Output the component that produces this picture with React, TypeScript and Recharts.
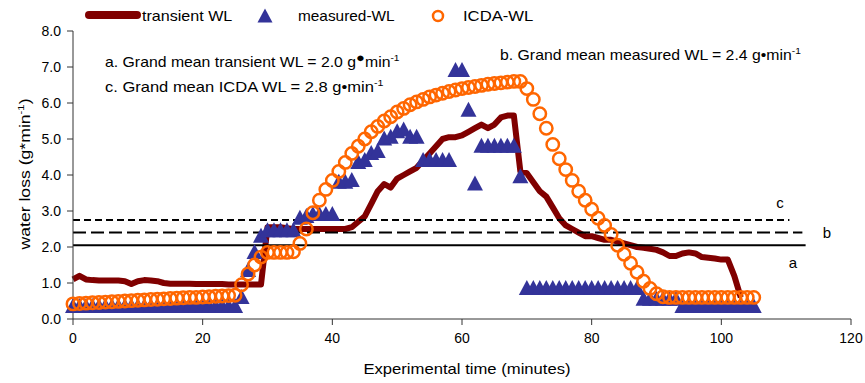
import React from "react";
import { ComposedChart, Line, XAxis, YAxis, ReferenceLine, Label } from "recharts";

// minutes since start of the experiment
const minutes = Array.from({ length: 106 }, (_, i) => i);

const transientWL = [
  1.1, 1.2, 1.1, 1.08, 1.07, 1.07, 1.07, 1.07, 1.05, 0.97,
  1.05, 1.08, 1.07, 1.05, 1.0, 0.98, 0.98, 0.98, 0.98, 0.97,
  0.97, 0.97, 0.97, 0.97, 0.96, 0.96, 0.96, 0.96, 0.96, 0.96,
  2.55, 2.55, 2.55, 2.52, 2.5, 2.5, 2.5, 2.5, 2.5, 2.5,
  2.5, 2.5, 2.5, 2.55, 2.7, 2.85, 3.2, 3.55, 3.75, 3.65,
  3.9, 4.0, 4.1, 4.2, 4.4, 4.6, 4.8, 5.0, 5.05, 5.05,
  5.1, 5.2, 5.3, 5.4, 5.3, 5.4, 5.6, 5.65, 5.65, 4.1,
  4.05, 3.8, 3.55, 3.4, 3.1, 2.8, 2.6, 2.5, 2.4, 2.3,
  2.3, 2.25, 2.2, 2.2, 2.15, 2.1, 2.05, 2.0, 1.98, 1.95,
  1.92, 1.85, 1.75, 1.75, 1.82, 1.85, 1.82, 1.72, 1.7, 1.68,
  1.65, 1.65, 1.2, 0.6,
];

const measuredWL = [
  0.35, 0.35, 0.35, 0.35, 0.35, 0.35, 0.35, 0.35, 0.35, 0.35,
  0.35, 0.35, 0.35, 0.35, 0.35, 0.35, 0.35, 0.35, 0.35, 0.35,
  0.35, 0.35, 0.35, 0.35, 0.35, 0.35, 0.6, 1.35, 1.85, 2.3,
  2.45, 2.45, 2.45, 2.45, 2.45, 2.8, 2.85, 2.9, 2.9, 2.9,
  2.9, 3.8, 3.8, 3.85, 4.35, 4.4, 4.6, 4.65, 5.0, 5.05,
  5.2, 5.25, 5.05, 5.05, 4.4, 4.4, 4.4, 4.4, 4.4, 6.9,
  6.9, 5.8, 3.75, 4.8, 4.8, 4.8, 4.8, 4.8, 4.8, 3.95,
  0.85, 0.85, 0.85, 0.85, 0.85, 0.85, 0.85, 0.85, 0.85, 0.85,
  0.85, 0.85, 0.85, 0.85, 0.85, 0.85, 0.85, 0.85, 0.55, 0.55,
  0.55, 0.55, 0.55, 0.55, 0.35, 0.35, 0.35, 0.35, 0.35, 0.35,
  0.35, 0.35, 0.35, 0.35, 0.35, 0.35,
];

const icdaWL = [
  0.42, 0.43, 0.44, 0.45, 0.46, 0.47, 0.48, 0.49, 0.5, 0.51,
  0.52, 0.53, 0.54, 0.55, 0.56, 0.57, 0.58, 0.59, 0.6, 0.6,
  0.61, 0.62, 0.63, 0.64, 0.65, 0.66, 0.95, 1.25, 1.5, 1.72,
  1.85, 1.85, 1.85, 1.85, 1.87, 2.1, 2.5, 2.95, 3.3, 3.6,
  3.85, 4.1, 4.35, 4.6, 4.8, 5.0, 5.2, 5.35, 5.5, 5.62,
  5.75, 5.85, 5.95, 6.03, 6.1, 6.17, 6.22, 6.27, 6.32, 6.36,
  6.4, 6.43, 6.46, 6.49, 6.52, 6.54, 6.56, 6.58, 6.6, 6.6,
  6.4, 6.1, 5.7, 5.3, 4.85, 4.45, 4.15, 3.85, 3.55, 3.3,
  3.05, 2.8, 2.6, 2.35, 2.05, 1.8, 1.55, 1.3, 1.05, 0.85,
  0.7, 0.62, 0.6, 0.6, 0.6, 0.6, 0.6, 0.6, 0.6, 0.6,
  0.6, 0.6, 0.6, 0.6, 0.6, 0.6,
];

// grand mean lines a / b / c
const meanNames = ["a", "b", "c"];
const meanLevels = [2.05, 2.4, 2.75];
const meanEnds = [113, 112.5, 110.5];

const xTicks = [0, 20, 40, 60, 80, 100, 120];
const yTicks = [0, 1, 2, 3, 4, 5, 6, 7, 8];

const data = minutes.map((t, i) => ({
  t,
  transient: transientWL[i] ?? null,
  measured: measuredWL[i] ?? null,
  icda: icdaWL[i] ?? null,
}));

const FONT = "'Liberation Sans', Arial, sans-serif";
const RED = "#800000";
const BLUE = "#333399";
const ORANGE = "#FF6600";

const TriangleDot = (props: any) => {
  const { cx, cy, index } = props;
  if (cx == null || cy == null) return <g key={`m-${index}`} />;
  return (
    <polygon
      key={`m-${index}`}
      points={`${cx},${cy - 8.5} ${cx - 8},${cy + 6.5} ${cx + 8},${cy + 6.5}`}
      fill={BLUE}
    />
  );
};

const CircleDot = (props: any) => {
  const { cx, cy, index } = props;
  if (cx == null || cy == null) return <g key={`c-${index}`} />;
  return <circle key={`c-${index}`} cx={cx} cy={cy} r={6.2} fill="none" stroke={ORANGE} strokeWidth={2.5} />;
};

const meanDash = ["", "13 5", "7 4"];
const meanLabelPos = [
  { x: 793, y: 268 },
  { x: 827, y: 238 },
  { x: 780, y: 208 },
];

// stretched text (the source figure's lettering is wider than Arial)
const Wide = ({ x, y, s, children, size = 14, anchor = "start" }: any) => (
  <g transform={`translate(${x} ${y}) scale(${s} 1)`}>
    <text x={0} y={0} fontSize={size} fill="#000" fontFamily={FONT} textAnchor={anchor}>
      {children}
    </text>
  </g>
);

export default function App() {
  return (
    <div style={{ position: "absolute", left: 0, top: 0, width: 865, height: 383, background: "#fff", fontFamily: FONT }}>
      <ComposedChart
        width={865}
        height={383}
        data={data}
        margin={{ top: 31, right: 14, bottom: 0, left: 13 }}
      >
        <XAxis
          type="number"
          dataKey="t"
          domain={[0, 120]}
          ticks={xTicks}
          interval={0}
          height={64}
          tickSize={6}
          tickMargin={8}
          stroke="#333"
          tick={{ fill: "#000", fontSize: 14, fontFamily: FONT }}
        >
          <Label
            content={(p: any) => {
              const vb = p.viewBox || { x: 73, y: 319, width: 778, height: 64 };
              return (
                <Wide x={vb.x + vb.width / 2 + 5} y={vb.y + 55} s={1.19} anchor="middle">
                  Experimental time (minutes)
                </Wide>
              );
            }}
          />
        </XAxis>
        <YAxis
          type="number"
          domain={[0, 8]}
          ticks={yTicks}
          interval={0}
          width={60}
          tickSize={6}
          tickMargin={6}
          stroke="#333"
          tick={{ fill: "#000", fontSize: 14, fontFamily: FONT }}
          tickFormatter={(v: number) => v.toFixed(1)}
        >
          <Label
            content={(p: any) => {
              const vb = p.viewBox || { x: 13, y: 31, width: 60, height: 288 };
              const cx = vb.x + 17;
              const cy = vb.y + vb.height / 2 - 1;
              return (
                <g transform={`translate(${cx} ${cy}) rotate(-90) scale(1.26 1)`}>
                  <text x={0} y={0} textAnchor="middle" fontSize={14} fontFamily={FONT} fill="#000">
                    water loss (g*min<tspan dy={-6} fontSize={9}>-1</tspan><tspan dy={6}>)</tspan>
                  </text>
                </g>
              );
            }}
          />
        </YAxis>

        <Line dataKey="transient" stroke={RED} strokeWidth={6} strokeLinejoin="round" dot={false} activeDot={false} isAnimationActive={false} />
        <Line dataKey="measured" stroke="none" dot={TriangleDot} activeDot={false} isAnimationActive={false} />
        <Line dataKey="icda" stroke="none" dot={CircleDot} activeDot={false} isAnimationActive={false} />

        {meanLevels.map((lvl, i) => (
          <ReferenceLine
            key={meanNames[i]}
            segment={[{ x: 0, y: lvl }, { x: meanEnds[i], y: lvl }]}
            stroke="#000"
            strokeWidth={2}
            strokeDasharray={meanDash[i] || undefined}
          />
        ))}
      </ComposedChart>

      <svg width={865} height={383} style={{ position: "absolute", left: 0, top: 0, pointerEvents: "none" }} fontFamily={FONT}>
        {/* legend */}
        <line x1={89} y1={15} x2={137} y2={15} stroke={RED} strokeWidth={8} strokeLinecap="round" />
        <Wide x={142} y={21} s={1.15}>transient WL</Wide>
        <polygon points="265,8.5 257.5,22.5 272.5,22.5" fill={BLUE} />
        <Wide x={298} y={21} s={1.1}>measured-WL</Wide>
        <circle cx={438} cy={16} r={5} fill="none" stroke={ORANGE} strokeWidth={2.5} />
        <Wide x={463} y={21} s={1.19}>ICDA-WL</Wide>

        {/* annotations */}
        <Wide x={105} y={67} s={1.13}>
          a. Grand mean transient WL = 2.0 g<tspan dy={-5} fontSize={13}>●</tspan><tspan dy={5}>min</tspan><tspan dy={-6} fontSize={9}>-1</tspan>
        </Wide>
        <Wide x={500} y={60} s={1.13}>
          b. Grand mean measured WL = 2.4 g•min<tspan dy={-6} fontSize={9}>-1</tspan>
        </Wide>
        <Wide x={105} y={92} s={1.18}>
          c. Grand mean ICDA WL = 2.8 g•min<tspan dy={-6} fontSize={9}>-1</tspan>
        </Wide>

        {meanNames.map((n, i) => (
          <text key={n} x={meanLabelPos[i].x} y={meanLabelPos[i].y} fontSize={15} fill="#000" textAnchor="middle">{n}</text>
        ))}
      </svg>
    </div>
  );
}
